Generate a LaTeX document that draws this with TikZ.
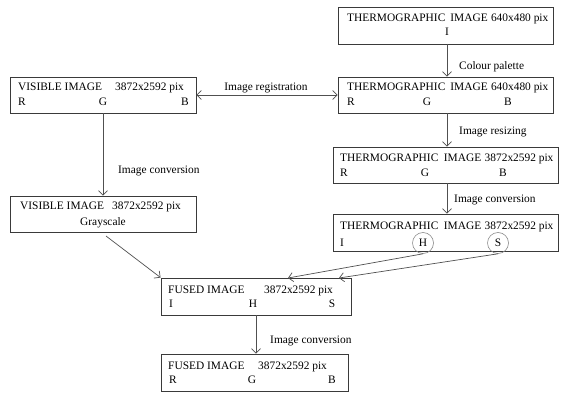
\documentclass[tikz,border=0pt]{standalone}
\usepackage{fontspec}
\setmainfont{Liberation Serif}
\usetikzlibrary{arrows.meta}
\definecolor{boxgray}{HTML}{3A3A3A}
\definecolor{linegray}{HTML}{505050}
\definecolor{circgray}{HTML}{8A8A8A}
\begin{document}
\begin{tikzpicture}[x=1pt,y=-1pt,
  box/.style={draw=boxgray, line width=0.9pt, inner sep=0pt},
  txt/.style={inner sep=0pt, font=\fontsize{11.4}{13}\selectfont, text=black},
  lbl/.style={inner sep=0pt, font=\fontsize{11.4}{13}\selectfont, text=black, anchor=west},
  arr/.style={draw=linegray, line width=0.7pt, -{Straight Barb[length=4.5pt,width=9pt]}},
  darr/.style={draw=linegray, line width=0.7pt, {Straight Barb[length=4.5pt,width=9pt]}-{Straight Barb[length=4.5pt,width=9pt]}},
  circ/.style={draw=circgray, line width=0.6pt, circle, minimum size=21pt, inner sep=0pt},
]
\useasboundingbox (0,0) rectangle (561,393);
\fill[white] (0,0) rectangle (561,393);

% boxes
\node[box, minimum width=215, minimum height=37] (tt) at (445.5,25.5) {};
\node[box, minimum width=215, minimum height=36] (tr) at (445.5,95) {};
\node[box, minimum width=186, minimum height=36] (vr) at (103,95) {};
\node[box, minimum width=186, minimum height=36] (vg) at (103,214) {};
\node[box, minimum width=225, minimum height=36] (t3) at (445.5,165) {};
\node[box, minimum width=225, minimum height=37] (ti) at (445.5,232.5) {};
\node[box, minimum width=190, minimum height=37] (fi) at (256,296.5) {};
\node[box, minimum width=187, minimum height=37] (fr) at (254.5,372.5) {};

% texts: thermographic 640x480 I
\node[txt, anchor=base west] (tta) at (347,21.5) {THERMOGRAPHIC\hspace{5pt}IMAGE\hspace{3.3pt}640x480 pix};
\node[txt, anchor=base] (ttb) at (447,35.5) {I};
% thermographic 640x480 RGB
\node[txt, anchor=base west] (tra) at (347,91) {THERMOGRAPHIC\hspace{5pt}IMAGE\hspace{3.3pt}640x480 pix};
\node[txt, anchor=base west] (trr) at (347,106) {R};
\node[txt, anchor=base] (trg) at (427,106) {G};
\node[txt, anchor=base] (trb) at (508,106) {B};
% visible RGB
\node[txt, anchor=base west] (vra) at (18,91) {VISIBLE IMAGE};
\node[txt, anchor=base west] (vrb) at (115,91) {3872x2592 pix};
\node[txt, anchor=base west] (vrr) at (18,106) {R};
\node[txt, anchor=base] (vrg) at (103,106) {G};
\node[txt, anchor=base] (vrbb) at (185,106) {B};
% visible grayscale
\node[txt, anchor=base west] (vga) at (20,209) {VISIBLE IMAGE};
\node[txt, anchor=base west] (vgb) at (112,209) {3872x2592 pix};
\node[txt, anchor=base] (vgc) at (103,225) {Grayscale};
% thermographic 3872 RGB
\node[txt, anchor=base west] (t3a) at (340,161) {THERMOGRAPHIC\hspace{5.5pt}IMAGE\hspace{3.5pt}3872x2592 pix};
\node[txt, anchor=base west] (t3r) at (340,176) {R};
\node[txt, anchor=base] (t3g) at (425,176) {G};
\node[txt, anchor=base] (t3b) at (503,176) {B};
% thermographic IHS
\node[txt, anchor=base west] (tia) at (340,229.5) {THERMOGRAPHIC\hspace{5.5pt}IMAGE\hspace{3.5pt}3872x2592 pix};
\node[txt, anchor=base west] (tii) at (340,246.5) {I};
\node[txt, anchor=base] (tih) at (423,246.5) {H};
\node[txt, anchor=base] (tis) at (498,246.5) {S};
\node[circ] (ch) at (423,243) {};
\node[circ] (cs) at (498,243) {};
% fused IHS
\node[txt, anchor=base west] (fia) at (168,293) {FUSED IMAGE};
\node[txt, anchor=base west] (fib) at (264,293) {3872x2592 pix};
\node[txt, anchor=base west] (fii) at (169,307.5) {I};
\node[txt, anchor=base] (fih) at (253,307.5) {H};
\node[txt, anchor=base] (fis) at (332,307.5) {S};
% fused RGB
\node[txt, anchor=base west] (fra) at (168,369) {FUSED IMAGE};
\node[txt, anchor=base west] (frb) at (258,369) {3872x2592 pix};
\node[txt, anchor=base west] (frr) at (169,383) {R};
\node[txt, anchor=base] (frg) at (252,383) {G};
\node[txt, anchor=base] (frbb) at (332,383) {B};

% connector labels
\node[lbl] (l1) at (459,67) {Colour palette};
\node[lbl, anchor=center] (l2) at (266,88) {Image registration};
\node[lbl] (l3) at (459,132) {Image resizing};
\node[lbl] (l4) at (118,171) {Image conversion};
\node[lbl] (l5) at (454,200) {Image conversion};
\node[lbl] (l6) at (270,341) {Image conversion};

% connectors
\coordinate (c1) at (447,44);
\coordinate (c2) at (447,113);
\coordinate (c3) at (447,183);
\coordinate (gs) at (106,236);
\coordinate (hin) at (288,278);
\coordinate (sin) at (339,278);
\draw[arr] (c1) -- (c1 |- tr.north);
\draw[darr] (vr.east) -- (tr.west);
\draw[arr] (c2) -- (c2 |- t3.north);
\draw[arr] (c3) -- (c3 |- ti.north);
\draw[arr] (vr.south) -- (vg.north);
\draw[arr] (gs) -- (fi.north west);
\draw[arr] (ch.south) -- (hin);
\draw[arr] (cs.south) -- (sin);
\draw[arr] (fi.south) -- (fi.south |- fr.north);
\end{tikzpicture}
\end{document}
